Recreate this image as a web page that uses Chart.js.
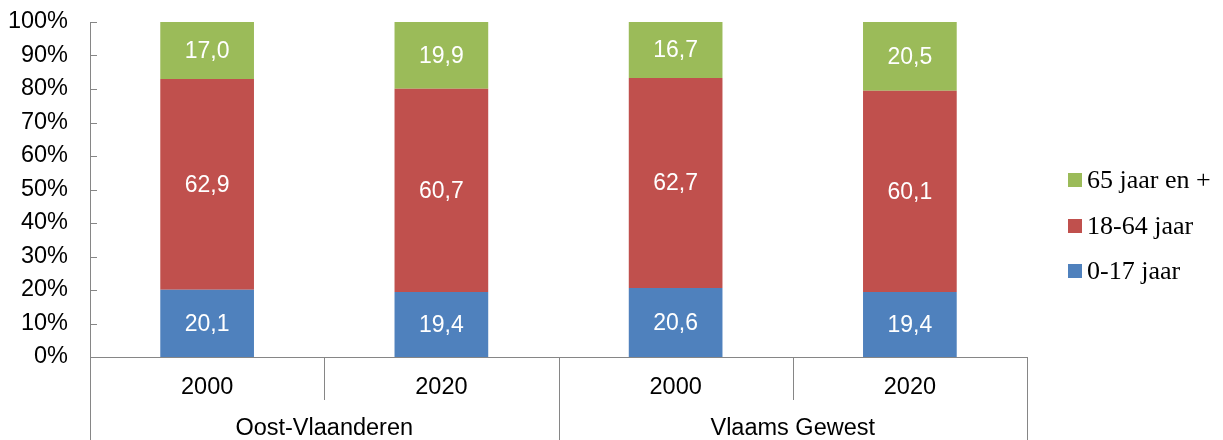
<!DOCTYPE html>
<html><head><meta charset="utf-8">
<script src="https://cdn.jsdelivr.net/npm/chart.js@4"></script>
<style>html,body{margin:0;padding:0;background:#fff}#wrap{width:1223px;height:440px;position:relative}</style>
</head><body><div id="wrap"><canvas id="c"></canvas></div>
<script>
const categories = ['2000', '2020', '2000', '2020'];
const groups = ['Oost-Vlaanderen', 'Vlaams Gewest'];
const groupSizes = [2, 2];
const seriesLabels = ['0-17 jaar', '18-64 jaar', '65 jaar en +'];
const age0to17 = [20.1, 19.4, 20.6, 19.4];
const age18to64 = [62.9, 60.7, 62.7, 60.1];
const age65plus = [17.0, 19.9, 16.7, 20.5];
const seriesColors = ['#4F81BD', '#C0504D', '#9BBB59'];

const AXIS = '#868686';
const SANS = '"Liberation Sans", Arial, sans-serif';
const SERIF = '"Liberation Serif", "Times New Roman", serif';
const FS = 23.5;

const extras = {
  id: 'extras',
  afterDatasetsDraw(chart) {
    const ctx = chart.ctx;
    ctx.save();
    ctx.fillStyle = '#fff';
    ctx.font = '23px ' + SANS;
    ctx.textAlign = 'center';
    ctx.textBaseline = 'middle';
    chart.data.datasets.forEach((ds, di) => {
      const meta = chart.getDatasetMeta(di);
      meta.data.forEach((el, i) => {
        const p = el.getProps(['x', 'y', 'base'], true);
        ctx.fillText(ds.data[i].toFixed(1).replace('.', ','), p.x, (p.y + p.base) / 2 + 1);
      });
    });
    ctx.restore();
  },
  afterDraw(chart) {
    const ctx = chart.ctx;
    const ca = chart.chartArea;
    const xs = chart.scales.x, ys = chart.scales.y;
    const H = chart.height;
    ctx.save();
    ctx.strokeStyle = AXIS;
    ctx.lineWidth = 1;
    ys.ticks.forEach(t => {
      const y = Math.round(ys.getPixelForValue(t.value)) + 0.5;
      ctx.beginPath();
      ctx.moveTo(ca.left, y);
      ctx.lineTo(ca.left + 7, y);
      ctx.stroke();
    });
    const n = categories.length;
    const bounds = [];
    for (let i = 0; i <= n; i++) {
      let x;
      if (i === 0) x = ca.left;
      else if (i === n) x = ca.right;
      else x = (xs.getPixelForValue(i - 1) + xs.getPixelForValue(i)) / 2;
      bounds.push(x);
    }
    const groupEdges = [0];
    groupSizes.forEach(s => groupEdges.push(groupEdges[groupEdges.length - 1] + s));
    bounds.forEach((x, i) => {
      const major = groupEdges.includes(i);
      const xx = Math.round(x) + 0.5;
      ctx.beginPath();
      ctx.moveTo(xx, ca.bottom);
      ctx.lineTo(xx, major ? H : ca.bottom + 43);
      ctx.stroke();
    });
    ctx.fillStyle = '#000';
    ctx.font = FS + 'px ' + SANS;
    ctx.textAlign = 'center';
    ctx.textBaseline = 'middle';
    groups.forEach((g, gi) => {
      const x = (bounds[groupEdges[gi]] + bounds[groupEdges[gi + 1]]) / 2;
      ctx.fillText(g, x, ca.bottom + 72);
    });
    ctx.font = '26px ' + SERIF;
    ctx.textAlign = 'left';
    const legY = [180, 226, 271];
    const order = [2, 1, 0];
    order.forEach((di, k) => {
      const ds = chart.data.datasets[di];
      const y = legY[k];
      ctx.fillStyle = ds.backgroundColor;
      ctx.fillRect(ca.right + 41, y - 7, 14, 14);
      ctx.fillStyle = '#000';
      ctx.fillText(ds.label, ca.right + 60, y + 1);
    });
    ctx.restore();
  }
};

new Chart(document.getElementById('c'), {
  type: 'bar',
  data: {
    labels: categories,
    datasets: [
      { label: seriesLabels[0], data: age0to17, backgroundColor: seriesColors[0] },
      { label: seriesLabels[1], data: age18to64, backgroundColor: seriesColors[1] },
      { label: seriesLabels[2], data: age65plus, backgroundColor: seriesColors[2] }
    ]
  },
  options: {
    responsive: true,
    maintainAspectRatio: false,
    animation: false,
    devicePixelRatio: 1,
    layout: { autoPadding: false, padding: { top: 22, right: 196, bottom: 0, left: 0 } },
    datasets: { bar: { barPercentage: 0.4, categoryPercentage: 1.0, borderWidth: 0 } },
    plugins: { legend: { display: false }, tooltip: { enabled: false } },
    scales: {
      x: {
        stacked: true,
        offset: true,
        grid: { display: false, drawTicks: false },
        border: { display: true, color: AXIS, width: 1 },
        ticks: { color: '#000', font: { family: SANS, size: FS }, padding: 16, maxRotation: 0 },
        afterFit(s) { s.height = 83; s.paddingLeft = 0; s.paddingRight = 0; }
      },
      y: {
        stacked: true,
        min: 0, max: 100,
        grid: { display: false, drawTicks: false },
        border: { display: true, color: AXIS, width: 1 },
        ticks: { stepSize: 10, color: '#000', font: { family: SANS, size: FS }, padding: 22,
                 callback: v => v + '%' },
        afterFit(s) { s.width = 90; s.paddingTop = 0; s.paddingBottom = 0; }
      }
    }
  },
  plugins: [extras]
});
</script>
</body></html>
